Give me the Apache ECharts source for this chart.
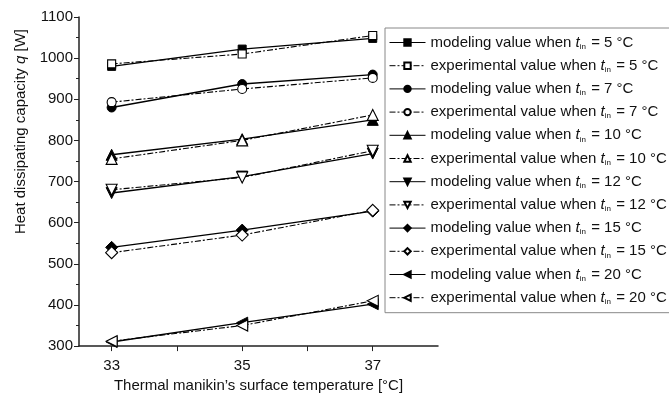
<!DOCTYPE html>
<html>
<head>
<meta charset="utf-8">
<script src="https://cdn.jsdelivr.net/npm/echarts@6/dist/echarts.min.js"></script>
<style>
  html, body { margin: 0; padding: 0; background: #fff; }
  #main { width: 669px; height: 398px; }
</style>
</head>
<body>
<div id="main"></div>
<script>
// surface temperature of the manikin [°C]
var temps = [33, 35, 37];
// inlet temperatures t_in [°C]
var inletTemps = [5, 7, 10, 12, 15, 20];
// heat dissipating capacity q [W], modeling / experimental
var model5 = [980, 1022, 1048];
var exp5 = [986, 1010, 1055];
var model7 = [880, 937, 960];
var exp7 = [893, 925, 952];
var model10 = [765, 803, 850];
var exp10 = [755, 800, 862];
var model12 = [672, 712, 768];
var exp12 = [680, 710, 775];
var model15 = [540, 582, 628];
var exp15 = [527, 570, 630];
var model20 = [310, 357, 402];
var exp20 = [312, 350, 410];

var modelSets = [model5, model7, model10, model12, model15, model20];
var expSets = [exp5, exp7, exp10, exp12, exp15, exp20];
var symbols = ['rect', 'circle', 'triangle',
  'path://M0,0 L10,0 L5,10 Z', 'diamond',
  'path://M10,0 L10,10 L0,5 Z'];
var symSizes = [8, 9, 11, 11, 12, 11];

var font = '"Liberation Sans Narrow", "Liberation Sans", Arial, sans-serif';
var fs = 15;

function pairs(vals) {
  return vals.map(function (v, i) { return [temps[i], v]; });
}

var series = [];
inletTemps.forEach(function (t, k) {
  series.push({
    name: 'm' + t,
    type: 'line',
    data: pairs(modelSets[k]),
    symbol: symbols[k],
    symbolSize: symSizes[k],
    itemStyle: { color: '#000', borderColor: '#000', borderWidth: 1 },
    lineStyle: { color: '#000', width: 1.4, type: 'solid' },
    z: 2
  });
  series.push({
    name: 'e' + t,
    type: 'line',
    data: pairs(expSets[k]),
    symbol: symbols[k],
    symbolSize: symSizes[k],
    itemStyle: { color: '#fff', borderColor: '#000', borderWidth: 1.1 },
    lineStyle: { color: '#000', width: 1.1, type: [6, 2, 2, 2] },
    z: 3
  });
});

var myChart = echarts.init(document.getElementById('main'));
myChart.setOption({
  backgroundColor: '#fff',
  animation: false,
  textStyle: { fontFamily: font },
  grid: { left: 79, right: 231, top: 17, bottom: 50 },
  xAxis: {
    type: 'value',
    min: 32.5,
    max: 38,
    name: 'Thermal manikin\u2019s surface temperature [\u00b0C]',
    nameLocation: 'middle',
    nameGap: 31,
    nameTextStyle: { fontSize: fs, color: '#111', fontFamily: font },
    axisLine: { lineStyle: { color: '#222', width: 1.5 } },
    axisTick: { length: 5, lineStyle: { color: '#222' }, customValues: [33, 34, 35, 36, 37] },
    axisLabel: { customValues: [33, 35, 37], fontSize: fs, color: '#111', margin: 12, fontFamily: font },
    splitLine: { show: false }
  },
  yAxis: {
    type: 'value',
    min: 300,
    max: 1100,
    interval: 100,
    name: '{a|Heat dissipating capacity }{i|q}{a| [W]}',
    nameLocation: 'middle',
    nameGap: 50,
    nameTextStyle: {
      fontSize: fs, color: '#111', fontFamily: font,
      padding: [0, 0, 0, 100],
      rich: {
        a: { fontSize: fs, color: '#111', fontFamily: font },
        i: { fontSize: fs, color: '#111', fontFamily: font, fontStyle: 'italic' }
      }
    },
    axisLine: { show: true, lineStyle: { color: '#222', width: 1.5 } },
    axisTick: { show: true, length: 5, lineStyle: { color: '#222' } },
    minorTick: { show: true, splitNumber: 2, length: 3, lineStyle: { color: '#222' } },
    axisLabel: {
      fontSize: fs, color: '#111', margin: 6, fontFamily: font,
      formatter: function (v) { return String(v); }
    },
    splitLine: { show: false }
  },
  legend: {
    orient: 'vertical',
    left: 385,
    top: 28,
    padding: [7, 4, 7, 4],
    itemWidth: 36,
    itemHeight: 8,
    itemGap: 7.7,
    backgroundColor: '#fff',
    borderColor: '#888',
    borderWidth: 1,
    lineStyle: { width: 1 },
    data: series.map(function (s) { return s.name; }),
    formatter: function (name) {
      var kind = name.charAt(0) === 'm' ? 'modeling' : 'experimental';
      return '{a|' + kind + ' value when }{i|t}{s|in}{a| = ' + name.slice(1) + ' \u00b0C}';
    },
    textStyle: {
      fontSize: fs,
      color: '#111',
      fontFamily: font,
      rich: {
        a: { fontSize: fs, lineHeight: 16, color: '#111', fontFamily: font },
        i: { fontSize: fs, lineHeight: 16, color: '#111', fontFamily: font, fontStyle: 'italic' },
        s: { fontSize: 8, lineHeight: 8, color: '#111', fontFamily: font, verticalAlign: 'bottom', padding: [7, 1, 0, 0] }
      }
    }
  },
  series: series
});
</script>
</body>
</html>
